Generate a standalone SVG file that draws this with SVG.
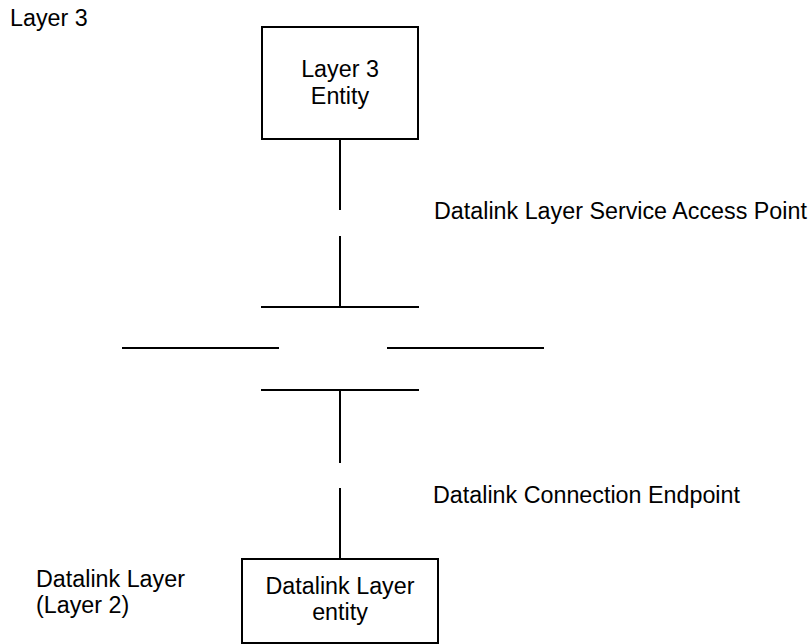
<svg xmlns="http://www.w3.org/2000/svg" width="812" height="644" viewBox="0 0 812 644">
  <style>
    text { font-family: "Liberation Sans", Arial, sans-serif; font-size: 23.3px; fill: #000; }
    .mid { text-anchor: middle; }
    .box { fill: #fff; stroke: #000; stroke-width: 2; }
    .wire { stroke: #000; stroke-width: 2; fill: none; }
  </style>
  <rect width="812" height="644" fill="#fff"/>

  <!-- layer labels -->
  <g id="label-layer3">
    <text x="10" y="26">Layer 3</text>
  </g>
  <g id="label-datalink-layer">
    <text x="36" y="587">Datalink Layer</text>
    <text x="36" y="613">(Layer 2)</text>
  </g>

  <!-- connectors: SAP and connection endpoint -->
  <g id="connectors">
    <line class="wire" x1="340" y1="139" x2="340" y2="210"/>
    <line class="wire" x1="340" y1="236" x2="340" y2="307"/>
    <line class="wire" x1="261" y1="307" x2="419" y2="307"/>
    <line class="wire" x1="122" y1="348" x2="279" y2="348"/>
    <line class="wire" x1="387" y1="348" x2="544" y2="348"/>
    <line class="wire" x1="261" y1="390" x2="419" y2="390"/>
    <line class="wire" x1="340" y1="390" x2="340" y2="463"/>
    <line class="wire" x1="340" y1="488" x2="340" y2="559"/>
  </g>

  <g id="sap-label">
    <text x="434" y="219">Datalink Layer Service Access Point</text>
  </g>
  <g id="cep-label">
    <text x="433" y="503">Datalink Connection Endpoint</text>
  </g>

  <g id="layer3-entity">
    <rect class="box" x="262" y="27" width="156" height="112"/>
    <text class="mid" x="340" y="77">Layer 3</text>
    <text class="mid" x="340" y="104">Entity</text>
  </g>

  <g id="datalink-entity">
    <rect class="box" x="242" y="559" width="196" height="84"/>
    <text class="mid" x="340" y="594">Datalink Layer</text>
    <text class="mid" x="340" y="620">entity</text>
  </g>
</svg>
